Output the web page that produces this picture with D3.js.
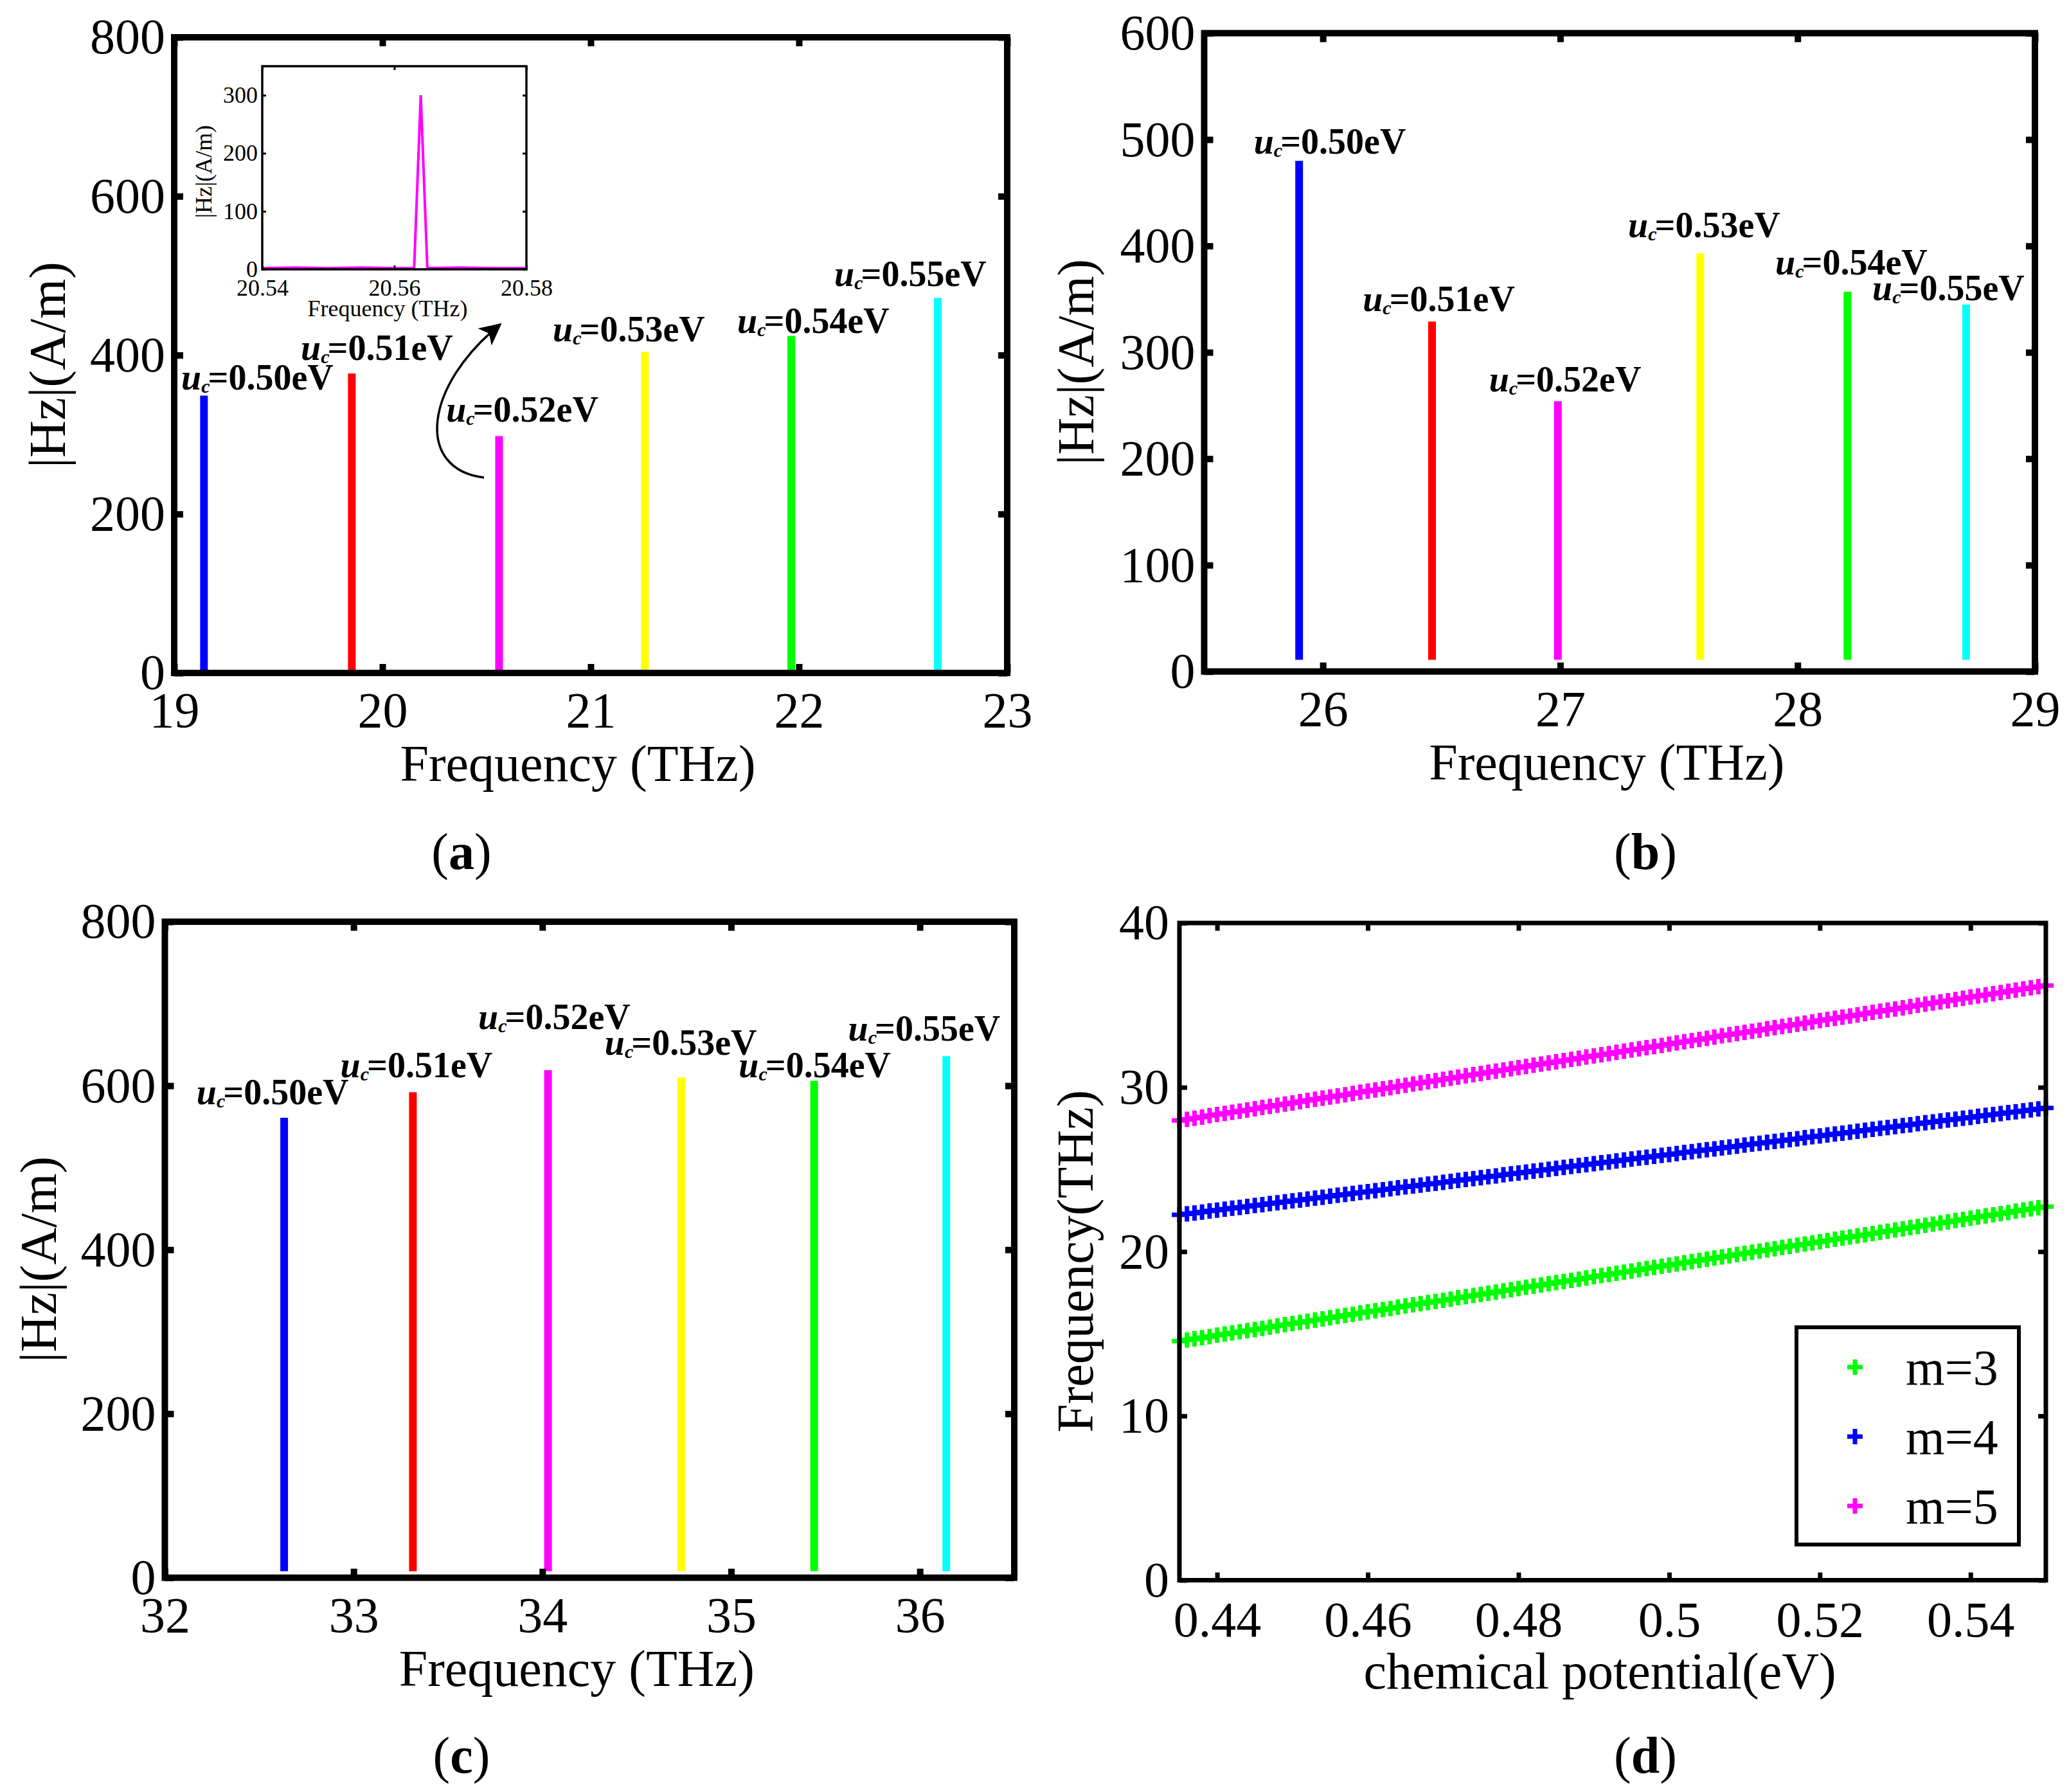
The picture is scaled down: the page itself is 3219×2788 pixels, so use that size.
<!DOCTYPE html>
<html lang="en">
<head>
  <meta charset="UTF-8" />
  <title>Hz spectra and resonance frequency vs chemical potential</title>
  <script src="https://d3js.org/d3.v7.min.js"></script>
  <style>
    html, body { margin: 0; padding: 0; background: #fff; }
    svg { display: block; background: #fff; }
    text { font-family: "Liberation Serif", "Times New Roman", serif; fill: #000; }
  </style>
</head>
<body>
<svg id="fig" width="3219" height="2788"></svg>
<script>
  // ---- data ----
  const muLabels = ["0.50", "0.51", "0.52", "0.53", "0.54", "0.55"];
  const stemColors = ["#0000ff", "#ff0000", "#ff00ff", "#ffff00", "#00ff00", "#00ffff"];

  // (a) m = 3
  const freqA = [19.143, 19.853, 20.56, 21.26, 21.963, 22.667];
  const ampA = [349, 377, 298, 404, 424, 472];
  const labelXA = [19.034, 19.608, 20.306, 20.818, 21.704, 22.17];
  const labelYA = [357, 394, 316, 417, 428, 487];

  // (a) inset, mu_c = 0.52 eV
  const insetFreq = [20.54, 20.545, 20.55, 20.555, 20.56, 20.563, 20.564, 20.565, 20.57, 20.575, 20.58];
  const insetAmp = [2, 3, 2, 3, 2, 2, 300, 2, 3, 2, 2];

  // (b) m = 4
  const freqB = [25.90, 26.46, 26.99, 27.59, 28.21, 28.71];
  const ampB = [480, 329, 254, 393, 357, 345];
  const labelXB = [25.709, 26.168, 26.70, 27.286, 27.906, 28.315];
  const labelYB = [487, 339, 263, 408, 373, 349];

  // (c) m = 5
  const freqC = [32.632, 33.314, 34.03, 34.736, 35.44, 36.14];
  const ampC = [561, 592, 619, 610, 606, 636];
  const labelXC = [32.168, 32.93, 33.66, 34.33, 35.04, 35.62];
  const labelYC = [577, 610, 669, 638, 610, 655];

  // (d) resonance frequency vs chemical potential
  const muD = [0.435,0.436,0.437,0.438,0.439,0.440,0.441,0.442,0.443,0.444,0.445,0.446,0.447,0.448,0.449,
    0.450,0.451,0.452,0.453,0.454,0.455,0.456,0.457,0.458,0.459,0.460,0.461,0.462,0.463,0.464,0.465,0.466,
    0.467,0.468,0.469,0.470,0.471,0.472,0.473,0.474,0.475,0.476,0.477,0.478,0.479,0.480,0.481,0.482,0.483,
    0.484,0.485,0.486,0.487,0.488,0.489,0.490,0.491,0.492,0.493,0.494,0.495,0.496,0.497,0.498,0.499,0.500,
    0.501,0.502,0.503,0.504,0.505,0.506,0.507,0.508,0.509,0.510,0.511,0.512,0.513,0.514,0.515,0.516,0.517,
    0.518,0.519,0.520,0.521,0.522,0.523,0.524,0.525,0.526,0.527,0.528,0.529,0.530,0.531,0.532,0.533,0.534,
    0.535,0.536,0.537,0.538,0.539,0.540,0.541,0.542,0.543,0.544,0.545,0.546,0.547,0.548,0.549,0.550];
  const fM3 = [14.55,14.62,14.69,14.76,14.83,14.91,14.98,15.05,15.12,15.19,15.26,15.33,15.40,15.48,15.55,
    15.62,15.69,15.76,15.83,15.90,15.97,16.05,16.12,16.19,16.26,16.33,16.40,16.47,16.54,16.62,16.69,16.76,
    16.83,16.90,16.97,17.04,17.11,17.19,17.26,17.33,17.40,17.47,17.54,17.61,17.68,17.75,17.83,17.90,17.97,
    18.04,18.11,18.18,18.25,18.32,18.40,18.47,18.54,18.61,18.68,18.75,18.82,18.89,18.97,19.04,19.11,19.18,
    19.25,19.32,19.39,19.46,19.54,19.61,19.68,19.75,19.82,19.89,19.96,20.03,20.11,20.18,20.25,20.32,20.39,
    20.46,20.53,20.60,20.67,20.75,20.82,20.89,20.96,21.03,21.10,21.17,21.24,21.32,21.39,21.46,21.53,21.60,
    21.67,21.74,21.81,21.89,21.96,22.03,22.10,22.17,22.24,22.31,22.38,22.46,22.53,22.60,22.67,22.74];
  const fM4 = [22.24,22.30,22.35,22.41,22.47,22.52,22.58,22.64,22.69,22.75,22.81,22.86,22.92,22.97,23.03,
    23.09,23.14,23.20,23.26,23.31,23.37,23.43,23.48,23.54,23.60,23.65,23.71,23.77,23.82,23.88,23.94,23.99,
    24.05,24.11,24.16,24.22,24.27,24.33,24.39,24.44,24.50,24.56,24.61,24.67,24.73,24.78,24.84,24.90,24.95,
    25.01,25.07,25.12,25.18,25.24,25.29,25.35,25.41,25.46,25.52,25.57,25.63,25.69,25.74,25.80,25.86,25.91,
    25.97,26.03,26.08,26.14,26.20,26.25,26.31,26.37,26.42,26.48,26.54,26.59,26.65,26.71,26.76,26.82,26.87,
    26.93,26.99,27.04,27.10,27.16,27.21,27.27,27.33,27.38,27.44,27.50,27.55,27.61,27.67,27.72,27.78,27.84,
    27.89,27.95,28.01,28.06,28.12,28.17,28.23,28.29,28.34,28.40,28.46,28.51,28.57,28.63,28.68,28.74];
  const fM5 = [27.98,28.05,28.12,28.19,28.27,28.34,28.41,28.48,28.55,28.62,28.69,28.77,28.84,28.91,28.98,
    29.05,29.12,29.20,29.27,29.34,29.41,29.48,29.55,29.62,29.70,29.77,29.84,29.91,29.98,30.05,30.12,30.20,
    30.27,30.34,30.41,30.48,30.55,30.62,30.70,30.77,30.84,30.91,30.98,31.05,31.13,31.20,31.27,31.34,31.41,
    31.48,31.55,31.63,31.70,31.77,31.84,31.91,31.98,32.05,32.13,32.20,32.27,32.34,32.41,32.48,32.55,32.63,
    32.70,32.77,32.84,32.91,32.98,33.06,33.13,33.20,33.27,33.34,33.41,33.48,33.56,33.63,33.70,33.77,33.84,
    33.91,33.98,34.06,34.13,34.20,34.27,34.34,34.41,34.48,34.56,34.63,34.70,34.77,34.84,34.91,34.99,35.06,
    35.13,35.20,35.27,35.34,35.41,35.49,35.56,35.63,35.70,35.77,35.84,35.91,35.99,36.06,36.13,36.20];
  const seriesNames = ["m=3", "m=4", "m=5"];
  const seriesColors = ["#00ff00", "#0000ff", "#ff00ff"];

  const svg = d3.select("#fig");
  const FONT = '"Liberation Serif", "Times New Roman", serif';

  // ticks inside on all four sides, box on top
  function drawAxes(g, x, y, o) {
    const [xl, xr] = x.range();
    const [yb, yt] = y.range();
    const style = sel => {
      sel.select(".domain").remove();
      sel.selectAll(".tick line").attr("stroke", "#000").attr("stroke-width", o.tickW);
      sel.attr("font-size", o.fs).attr("font-family", FONT);
      sel.selectAll(".tick text").attr("fill", "#000");
    };
    g.append("g").attr("transform", `translate(0,${yb})`)
      .call(d3.axisBottom(x).tickValues(o.xt).tickSize(-o.tick).tickPadding(o.xpad).tickFormat(o.xf)).call(style);
    g.append("g").attr("transform", `translate(0,${yt})`)
      .call(d3.axisTop(x).tickValues(o.xt).tickSize(-o.tick).tickFormat("")).call(style);
    g.append("g").attr("transform", `translate(${xl},0)`)
      .call(d3.axisLeft(y).tickValues(o.yt).tickSize(-o.tick).tickPadding(o.ypad).tickFormat(o.yf)).call(style);
    g.append("g").attr("transform", `translate(${xr},0)`)
      .call(d3.axisRight(y).tickValues(o.yt).tickSize(-o.tick).tickFormat("")).call(style);
    g.append("rect")
      .attr("x", xl).attr("y", yt).attr("width", xr - xl).attr("height", yb - yt)
      .attr("fill", "none").attr("stroke", "#000").attr("stroke-width", o.boxW);
  }

  function titles(g, x, y, xt, yt, o) {
    const [xl, xr] = x.range();
    const [yb, yt0] = y.range();
    g.append("text")
      .attr("x", (xl + xr) / 2 - 20).attr("y", yb + o.xtOff)
      .attr("text-anchor", "middle").attr("font-size", o.fs).text(xt);
    g.append("text")
      .attr("transform", `translate(${xl - o.ytOff},${(yb + yt0) / 2 + 15}) rotate(-90)`)
      .attr("text-anchor", "middle").attr("font-size", o.fs).text(yt);
  }

  function muLabel(g, px, py, mu) {
    const t = g.append("text").attr("x", px).attr("y", py)
      .attr("font-size", 56).attr("font-weight", "bold");
    t.append("tspan").attr("font-style", "italic").text("u");
    t.append("tspan").attr("font-style", "italic").attr("font-size", 30).attr("dy", 5).text("c");
    t.append("tspan").attr("dy", -5).attr("dx", -3).text("=" + mu + "eV");
  }

  function subLabel(cx, by, letter) {
    const t = svg.append("text").attr("x", cx).attr("y", by)
      .attr("text-anchor", "middle").attr("font-size", 80);
    t.append("tspan").text("(");
    t.append("tspan").attr("font-weight", "bold").text(letter);
    t.append("tspan").text(")");
  }

  function stemPanel(p) {
    const g = svg.append("g");
    const x = d3.scaleLinear().domain(p.xd).range([p.L, p.R]);
    const y = d3.scaleLinear().domain(p.yd).range([p.B, p.T]);
    const stems = p.freq.map((f, i) => ({ f, a: p.amp[i], c: stemColors[i] }));
    g.selectAll("line.stem").data(stems).join("line")
      .attr("class", "stem")
      .attr("x1", d => x(d.f)).attr("x2", d => x(d.f))
      .attr("y1", y(p.base)).attr("y2", d => y(d.a))
      .attr("stroke", d => d.c).attr("stroke-width", 12);
    muLabels.forEach((mu, i) => muLabel(g, x(p.lx[i]), y(p.ly[i]), mu));
    drawAxes(g, x, y, {
      xt: p.xt, yt: p.yt, xf: d => String(d), yf: d => String(d),
      tick: 14, tickW: 10, boxW: 10, fs: 78, xpad: 29, ypad: 14
    });
    titles(g, x, y, "Frequency (THz)", "|Hz|(A/m)", { fs: 80, xtOff: 168, ytOff: p.ytOff });
    return { g, x, y };
  }

  // ---- (a) ----
  const pa = stemPanel({
    L: 271, R: 1567, T: 58, B: 1047, xd: [19, 23], yd: [0, 800],
    xt: [19, 20, 21, 22, 23], yt: [0, 200, 400, 600, 800],
    freq: freqA, amp: ampA, lx: labelXA, ly: labelYA, base: 0, ytOff: 170
  });

  // inset of (a)
  {
    const g = pa.g.append("g");
    const x = d3.scaleLinear().domain([20.54, 20.58]).range([408, 819]);
    const y = d3.scaleLinear().domain([0, 350]).range([419, 103]);
    g.append("rect").attr("x", 408).attr("y", 103).attr("width", 411).attr("height", 316).attr("fill", "#fff");
    g.append("path")
      .datum(d3.zip(insetFreq, insetAmp))
      .attr("d", d3.line().x(d => x(d[0])).y(d => y(d[1])))
      .attr("fill", "none").attr("stroke", "#ff00ff").attr("stroke-width", 4);
    drawAxes(g, x, y, {
      xt: [20.54, 20.56, 20.58], yt: [0, 100, 200, 300],
      xf: d3.format(".2f"), yf: d => String(d),
      tick: 6, tickW: 3, boxW: 3.5, fs: 36, xpad: 15, ypad: 7
    });
    g.append("text").attr("x", 603).attr("y", 492).attr("text-anchor", "middle")
      .attr("font-size", 36).text("Frequency (THz)");
    g.append("text").attr("transform", "translate(329,267) rotate(-90)")
      .attr("text-anchor", "middle").attr("font-size", 36).text("|Hz|(A/m)");

    // curved arrow pointing from the 0.52 eV stem to the inset
    const defs = svg.append("defs");
    defs.append("marker").attr("id", "head")
      .attr("viewBox", "0 0 10 10").attr("refX", 9).attr("refY", 5)
      .attr("markerUnits", "userSpaceOnUse").attr("markerWidth", 44).attr("markerHeight", 34)
      .attr("orient", "auto")
      .append("path").attr("d", "M0,0L10,5L0,10L2.5,5Z").attr("fill", "#000");
    pa.g.append("path")
      .attr("d", "M753,743C645,730,660,600,778,505")
      .attr("fill", "none").attr("stroke", "#000").attr("stroke-width", 3.5)
      .attr("marker-end", "url(#head)");
  }
  subLabel(718, 1352, "a");

  // ---- (b) ----
  stemPanel({
    L: 1873.5, R: 3166, T: 51.6, B: 1044.7, xd: [25.5, 29], yd: [0, 600],
    xt: [26, 27, 28, 29], yt: [0, 100, 200, 300, 400, 500, 600],
    freq: freqB, amp: ampB, lx: labelXB, ly: labelYB, base: 11, ytOff: 173
  });
  subLabel(2560, 1352, "b");

  // ---- (c) ----
  stemPanel({
    L: 256.5, R: 1578, T: 1434, B: 2454.6, xd: [32, 36.5], yd: [0, 800],
    xt: [32, 33, 34, 35, 36], yt: [0, 200, 400, 600, 800],
    freq: freqC, amp: ampC, lx: labelXC, ly: labelYC, base: 8, ytOff: 170
  });
  subLabel(718, 2758, "c");

  // ---- (d) ----
  {
    const g = svg.append("g");
    const x = d3.scaleLinear().domain([0.435, 0.55]).range([1835, 3183]);
    const y = d3.scaleLinear().domain([0, 40]).range([2458.5, 1436]);
    const plus = "M-12,0H12M0,-12V12";
    [fM3, fM4, fM5].forEach((vals, k) => {
      g.append("g").selectAll("path").data(d3.zip(muD, vals)).join("path")
        .attr("transform", d => `translate(${x(d[0])},${y(d[1])})`)
        .attr("d", plus).attr("fill", "none")
        .attr("stroke", seriesColors[k]).attr("stroke-width", 7);
    });
    drawAxes(g, x, y, {
      xt: [0.44, 0.46, 0.48, 0.5, 0.52, 0.54], yt: [0, 10, 20, 30, 40],
      xf: d => String(d), yf: d => String(d),
      tick: 12, tickW: 7, boxW: 7, fs: 78, xpad: 32, ypad: 16
    });
    titles(g, x, y, "chemical potential(eV)", "Frequency(THz)", { fs: 80, xtOff: 168, ytOff: 135 });

    // legend
    const lg = g.append("g");
    lg.append("rect").attr("x", 2795).attr("y", 2065).attr("width", 346).attr("height", 338)
      .attr("fill", "#fff").attr("stroke", "#000").attr("stroke-width", 6);
    const rowY = d3.scalePoint().domain(seriesNames).range([2127, 2343]);
    seriesNames.forEach((name, k) => {
      lg.append("path").attr("transform", `translate(2886,${rowY(name)})`)
        .attr("d", plus).attr("fill", "none")
        .attr("stroke", seriesColors[k]).attr("stroke-width", 7);
      lg.append("text").attr("x", 2965).attr("y", rowY(name) + 27)
        .attr("font-size", 78).text(name);
    });
  }
  subLabel(2560, 2758, "d");
</script>
</body>
</html>
